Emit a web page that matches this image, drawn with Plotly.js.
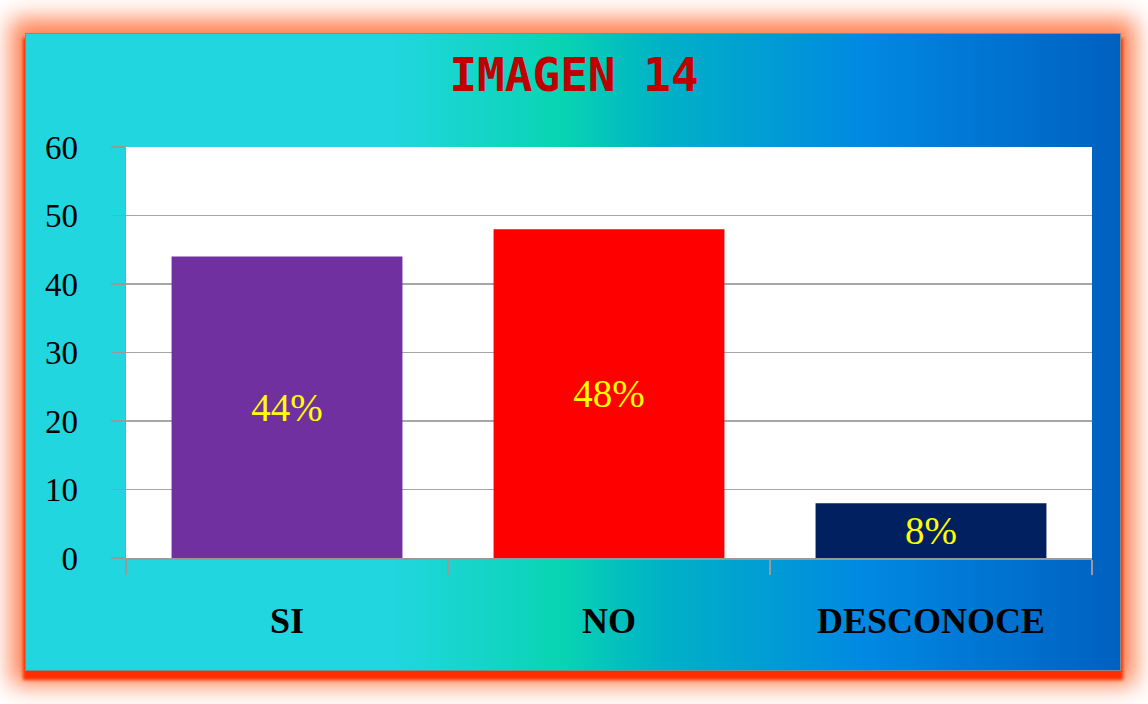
<!DOCTYPE html>
<html>
<head>
<meta charset="utf-8">
<script src="https://cdn.plot.ly/plotly-3.0.1.min.js"></script>
<style>
  html, body { margin: 0; padding: 0; background: #ffffff; width: 1148px; height: 704px; overflow: hidden; }
  #frame {
    position: absolute; left: 25px; top: 33px; width: 1094px; height: 636px;
    border: 1px solid #888888;
    background: linear-gradient(90deg, #22d6e0 0%, #22d6e0 33%, #08d4b2 49%, #00b2c6 58%, #0088e2 77%, #0060c0 100%);
    box-shadow: 0 7px 3px 2px #ff2e00, 0 0 22px 14px rgba(255,120,70,0.95);
  }
  #chart { position: absolute; left: 0; top: 0; width: 1148px; height: 704px; }
</style>
</head>
<body>
<div id="frame"></div>
<div id="chart"></div>
<script>
const categories = ["SI", "NO", "DESCONOCE"];
const values = [44, 48, 8];
const labels = ["44%", "48%", "8%"];
const barColors = ["#7030A0", "#FF0000", "#002060"];
const yTicks = [0, 10, 20, 30, 40, 50, 60];
const titleText = "IMAGEN 14";

const trace = {
  type: "bar",
  x: categories,
  y: values,
  text: labels,
  textposition: "inside",
  insidetextanchor: "middle",
  constraintext: "none",
  textfont: { family: "Liberation Serif, serif", size: 39, color: "#FFFF00" },
  marker: { color: barColors, line: { width: 0 } },
  hoverinfo: "none"
};

const layout = {
  width: 1148, height: 704,
  margin: { l: 126, r: 56, t: 147, b: 146 },
  paper_bgcolor: "rgba(0,0,0,0)",
  plot_bgcolor: "#ffffff",
  showlegend: false,
  bargap: 0.283,
  title: {
    text: titleText,
    font: { family: "DejaVu Sans Mono, monospace", size: 46, color: "#C00000", weight: "bold" },
    x: 0.5, xanchor: "center", xref: "container",
    y: 0.893, yanchor: "middle", yref: "container"
  },
  xaxis: {
    type: "category",
    tickson: "boundaries",
    ticks: "outside", ticklen: 15, tickwidth: 1.5, tickcolor: "#999999",
    showline: true, linecolor: "#999999", linewidth: 1.5,
    showgrid: false,
    ticklabelstandoff: 30,
    tickfont: { family: "Liberation Serif, serif", size: 36, color: "#000000", weight: "bold" }
  },
  yaxis: {
    range: [0, 60],
    tickvals: yTicks,
    ticktext: yTicks.map(String),
    ticks: "outside", ticklen: 14, tickwidth: 1.5, tickcolor: "#999999",
    showline: true, linecolor: "#999999", linewidth: 1.5,
    showgrid: true, gridcolor: "#a6a6a6", gridwidth: 1.5,
    zeroline: false,
    ticklabelstandoff: 26,
    tickfont: { family: "Liberation Serif, serif", size: 33, color: "#000000" }
  }
};

Plotly.newPlot("chart", [trace], layout, { displayModeBar: false, staticPlot: true });
</script>
</body>
</html>
